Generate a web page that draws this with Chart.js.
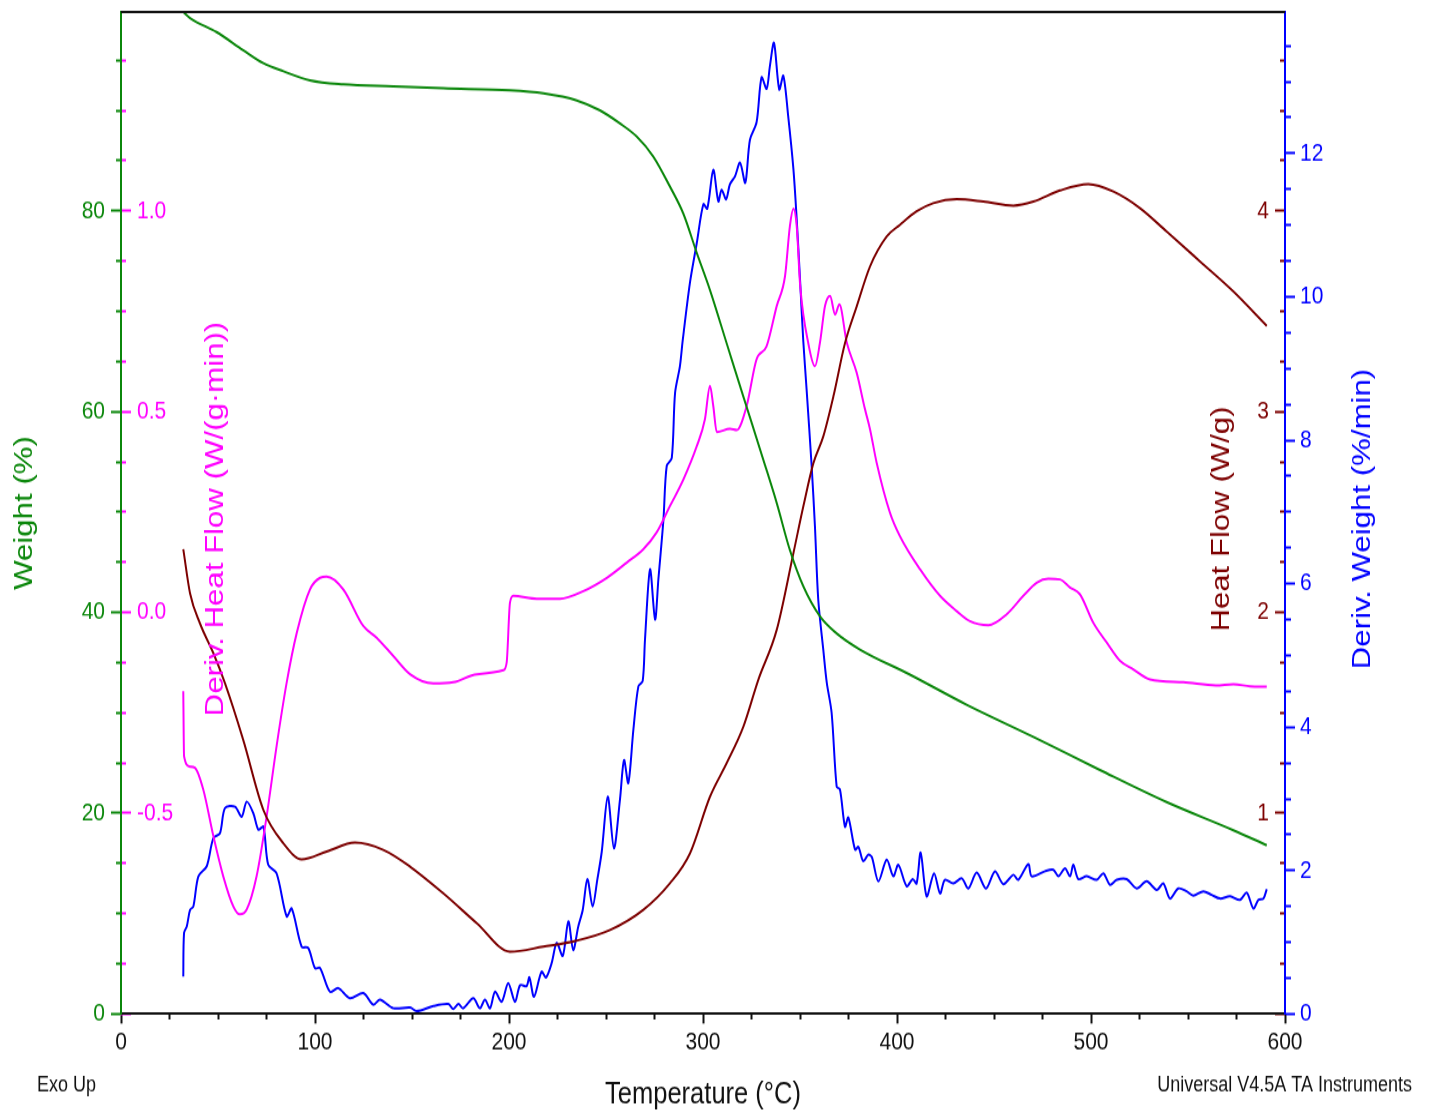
<!DOCTYPE html>
<html>
<head>
<meta charset="utf-8">
<script src="https://cdn.jsdelivr.net/npm/chart.js@4/dist/chart.umd.min.js"></script>
<style>
  html, body { margin: 0; padding: 0; background: #fff; }
  #wrap { width: 1432px; height: 1113px; }
</style>
</head>
<body>
<div id="wrap">
  <!-- drawn at 928px high and shown stretched to 1113px, like the instrument export -->
  <canvas id="tga" width="1432" height="928" style="width:1432px;height:1113px"></canvas>
</div>
<script>
// Weight (%)
const weightTemp = [
  32.1, 35.6, 49.3, 63.0, 73.4, 83.7, 97.4, 114.6, 140.4, 166.1,
  200.5, 217.7, 234.9, 246.9, 257.2, 265.8, 274.4, 283.0, 289.9, 296.8,
  303.6, 312.2, 320.8, 331.1, 338.0, 344.8, 351.7, 360.3, 368.9, 380.9,
  406.7, 435.9, 470.3, 504.6, 539.0, 573.4, 590.6
];
const weightPct = [
  99.8, 99.2, 97.8, 96.0, 94.7, 93.9, 93.0, 92.6, 92.4, 92.2,
  92.0, 91.7, 91.0, 90.0, 88.7, 87.4, 85.4, 82.4, 79.7, 75.8,
  72.1, 66.8, 61.5, 55.2, 50.9, 46.2, 42.6, 39.6, 37.9, 36.3,
  33.8, 30.8, 27.6, 24.3, 21.1, 18.3, 16.8
];

// Heat Flow (W/g)
const heatTemp = [
  32.1, 35.6, 40.7, 47.6, 53.6, 63.0, 73.4, 83.7, 93.1, 106.0,
  120.6, 135.2, 149.0, 166.1, 183.4, 200.5, 217.7, 234.9, 252.1, 269.2,
  283.0, 293.3, 303.6, 312.2, 320.8, 328.5, 338.0, 346.6, 351.7, 356.9,
  362.0, 367.2, 373.2, 379.2, 386.1, 394.7, 401.5, 410.1, 418.7, 430.8,
  444.5, 460.0, 470.3, 484.0, 498.6, 511.5, 525.3, 539.0, 556.2, 573.4,
  590.6
];
const heatFlow = [
  2.315, 2.095, 1.945, 1.797, 1.647, 1.365, 1.016, 0.850, 0.770, 0.809,
  0.853, 0.817, 0.734, 0.601, 0.452, 0.310, 0.335, 0.365, 0.418, 0.518,
  0.651, 0.800, 1.082, 1.249, 1.431, 1.664, 1.913, 2.295, 2.527, 2.743,
  2.876, 3.075, 3.341, 3.523, 3.723, 3.872, 3.930, 3.997, 4.038, 4.058,
  4.046, 4.026, 4.046, 4.101, 4.133, 4.096, 4.013, 3.897, 3.748, 3.598,
  3.427
];

// Deriv. Heat Flow (W/(g·min))
const dhfTemp = [
  32.1, 32.5, 35.6, 38.1, 42.4, 47.6, 52.7, 57.9, 61.3, 64.8,
  69.9, 75.1, 80.2, 85.4, 90.6, 97.4, 102.6, 106.0, 114.6, 124.9,
  131.8, 140.4, 149.0, 161.0, 171.3, 183.4, 197.1, 198.8, 200.5, 202.2,
  214.3, 226.3, 238.3, 250.4, 260.7, 269.2, 276.1, 283.0, 289.9, 296.8,
  301.0, 303.6, 305.3, 307.1, 313.9, 317.4, 322.5, 327.6, 332.8, 338.0,
  342.3, 344.8, 346.6, 348.3, 350.1, 354.4, 357.7, 360.3, 362.9, 365.5,
  368.1, 370.3, 374.1, 379.2, 383.5, 386.1, 389.5, 396.4, 401.5, 411.9,
  422.2, 430.8, 437.6, 447.1, 456.5, 465.1, 472.0, 478.0, 484.0, 489.2,
  494.3, 501.2, 508.1, 515.0, 521.8, 530.4, 547.6, 564.4, 573.4, 582.0,
  590.6
];
const derivHeatFlow = [
  -0.196, -0.358, -0.384, -0.387, -0.441, -0.557, -0.657, -0.732, -0.752, -0.740,
  -0.657, -0.507, -0.333, -0.175, -0.051, 0.057, 0.086, 0.089, 0.057, -0.034,
  -0.063, -0.109, -0.154, -0.177, -0.174, -0.154, -0.144, -0.125, 0.024, 0.041,
  0.034, 0.034, 0.053, 0.086, 0.124, 0.157, 0.199, 0.265, 0.331, 0.414,
  0.481, 0.564, 0.514, 0.449, 0.457, 0.454, 0.514, 0.630, 0.663, 0.763,
  0.838, 0.962, 1.005, 0.962, 0.813, 0.667, 0.613, 0.672, 0.763, 0.788,
  0.742, 0.767, 0.672, 0.597, 0.506, 0.456, 0.373, 0.248, 0.190, 0.107,
  0.041, 0.003, -0.022, -0.032, -0.005, 0.041, 0.074, 0.084, 0.082, 0.062,
  0.045, -0.026, -0.075, -0.121, -0.142, -0.167, -0.174, -0.182, -0.179, -0.184,
  -0.185
];

// Deriv. Weight (%/min)
const dwTemp = [
  32.1, 32.5, 33.9, 35.6, 37.3, 39.9, 44.2, 47.6, 51.0, 53.6,
  58.8, 62.2, 64.8, 68.2, 70.8, 73.4, 75.9, 80.2, 85.4, 88.0,
  93.1, 96.5, 100.0, 102.6, 107.7, 112.0, 118.0, 124.9, 130.1, 133.5,
  140.4, 149.0, 152.4, 161.0, 168.7, 171.3, 173.9, 176.4, 181.6, 185.0,
  187.6, 190.2, 192.8, 196.2, 199.6, 203.1, 205.7, 209.1, 210.5, 212.9,
  216.8, 219.1, 222.0, 224.6, 227.7, 230.6, 233.1, 235.7, 238.0, 240.4,
  243.1, 245.5, 247.8, 250.9, 254.1, 257.2, 259.3, 261.5, 264.1, 266.7,
  268.9, 270.1, 272.7, 275.3, 277.0, 279.6, 281.3, 283.9, 285.6, 288.1,
  289.5, 293.3, 296.8, 300.2, 302.2, 305.3, 307.9, 309.6, 311.9, 313.9,
  316.5, 319.1, 321.8, 324.2, 327.6, 330.2, 332.8, 334.5, 336.6, 339.3,
  341.4, 343.9, 346.6, 348.3, 350.1, 351.7, 353.4, 356.0, 357.7, 359.4,
  362.0, 363.8, 366.3, 368.9, 370.6, 373.2, 374.9, 378.4, 380.1, 382.6,
  385.2, 387.0, 390.4, 394.7, 398.1, 400.7, 405.0, 408.1, 410.1, 412.2,
  415.3, 419.1, 422.2, 424.7, 429.0, 433.4, 436.8, 441.1, 445.9, 450.5,
  454.8, 460.0, 462.5, 467.7, 469.4, 476.3, 480.6, 483.2, 486.6, 489.2,
  490.9, 493.5, 497.8, 502.9, 506.4, 509.8, 513.3, 518.4, 523.6, 528.7,
  533.9, 537.3, 540.7, 545.0, 549.3, 552.7, 557.9, 562.2, 566.5, 571.7,
  576.8, 580.3, 583.7, 586.3, 588.9, 590.6
];
const derivWeight = [
  0.52, 1.13, 1.22, 1.45, 1.50, 1.92, 2.06, 2.45, 2.52, 2.87,
  2.89, 2.75, 2.96, 2.80, 2.57, 2.61, 2.08, 1.96, 1.36, 1.47,
  0.94, 0.92, 0.64, 0.64, 0.31, 0.36, 0.22, 0.29, 0.13, 0.20,
  0.08, 0.09, 0.04, 0.11, 0.14, 0.07, 0.14, 0.08, 0.22, 0.08,
  0.20, 0.08, 0.31, 0.17, 0.43, 0.17, 0.40, 0.39, 0.51, 0.24,
  0.59, 0.51, 0.71, 0.99, 0.81, 1.29, 0.89, 1.22, 1.45, 1.88,
  1.50, 1.87, 2.26, 3.03, 2.31, 2.99, 3.54, 3.22, 3.96, 4.57,
  4.64, 5.22, 6.20, 5.50, 6.06, 6.89, 7.64, 7.75, 8.66, 9.03,
  9.38, 10.20, 10.75, 11.29, 11.23, 11.77, 11.33, 11.49, 11.36, 11.57,
  11.68, 11.87, 11.59, 12.19, 12.43, 13.06, 12.90, 13.22, 13.54, 12.89,
  13.08, 12.52, 11.78, 11.08, 10.20, 9.38, 8.71, 7.64, 6.80, 5.78,
  5.08, 4.62, 4.20, 3.17, 3.13, 2.61, 2.74, 2.29, 2.33, 2.13,
  2.22, 2.19, 1.85, 2.15, 1.92, 2.08, 1.78, 1.88, 1.82, 2.25,
  1.64, 1.96, 1.68, 1.87, 1.82, 1.89, 1.75, 1.97, 1.75, 1.99,
  1.81, 1.94, 1.87, 2.09, 1.92, 1.99, 2.01, 1.92, 2.03, 1.92,
  2.08, 1.88, 1.92, 1.87, 1.96, 1.80, 1.87, 1.88, 1.75, 1.85,
  1.73, 1.82, 1.61, 1.75, 1.71, 1.65, 1.71, 1.66, 1.61, 1.64,
  1.59, 1.69, 1.47, 1.59, 1.61, 1.74
];

// axis ranges as exported by the instrument
const tempRange = [0, 600];
const weightRange = [0, 99.8];
const dhfRange = [-1.0, 1.495];
const heatRange = [0, 4.99];
const dwRange = [0, 13.97];

const FONT = '"Liberation Sans", Arial, sans-serif';
const GREEN = '#0b870b';
const MAGENTA = '#ff00ff';
const MAROON = '#7d0000';
const BLUE = '#0000ff';

Chart.defaults.font.family = FONT;

const toPoints = (xs, ys) => xs.map((x, i) => ({ x, y: ys[i] }));
const isMult = (v, step) => Math.abs(v / step - Math.round(v / step)) < 1e-6;

// long ticks on the labelled values, short ones in between
const tickDash = (step, minor) => ctx => (ctx.tick && isMult(ctx.tick.value, step)) ? [] : minor;

const fixWidth = w => scale => {
  scale.width = w;
  scale.paddingTop = 0;
  scale.paddingBottom = 0;
};

const plotLeft = 121;
const plotRight = 1285;

const extras = {
  id: 'extras',
  afterDraw(chart) {
    const { ctx, chartArea: a } = chart;
    ctx.save();
    // frame line along the top
    ctx.strokeStyle = '#111';
    ctx.lineWidth = 1.8;
    ctx.beginPath();
    ctx.moveTo(a.left, a.top);
    ctx.lineTo(a.right, a.top);
    ctx.stroke();

    const midY = (a.top + a.bottom) / 2 + 5;
    const vText = (text, x, color) => {
      ctx.save();
      ctx.translate(x, midY);
      ctx.rotate(-Math.PI / 2);
      ctx.font = '26px ' + FONT;
      ctx.fillStyle = color;
      ctx.textAlign = 'center';
      ctx.textBaseline = 'middle';
      ctx.fillText(text, 0, 0);
      ctx.restore();
    };
    vText('Deriv. Heat Flow (W/(g·min))', a.left + 95, MAGENTA);
    vText('Heat Flow (W/g)', a.right - 63, MAROON);
    vText('Deriv. Weight (%/min)', a.right + 78, BLUE);

    ctx.font = '18px ' + FONT;
    ctx.fillStyle = '#111';
    ctx.textBaseline = 'middle';
    ctx.textAlign = 'left';
    ctx.fillText('Exo Up', 37, chart.height - 22.5);
    ctx.textAlign = 'right';
    ctx.fillText('Universal V4.5A TA Instruments', 1412, chart.height - 22.5);
    ctx.restore();
  }
};

const lineSet = (label, pts, color, axis, mode, tension) => ({
  label,
  data: pts,
  yAxisID: axis,
  borderColor: color,
  borderWidth: 2,
  pointRadius: 0,
  fill: false,
  cubicInterpolationMode: mode,
  tension
});

new Chart(document.getElementById('tga'), {
  type: 'line',
  data: {
    datasets: [
      lineSet('Weight (%)', toPoints(weightTemp, weightPct), GREEN, 'yW', 'monotone', 0),
      lineSet('Heat Flow (W/g)', toPoints(heatTemp, heatFlow), MAROON, 'yHF', 'monotone', 0),
      lineSet('Deriv. Heat Flow (W/(g·min))', toPoints(dhfTemp, derivHeatFlow), MAGENTA, 'yDHF', 'monotone', 0),
      lineSet('Deriv. Weight (%/min)', toPoints(dwTemp, derivWeight), BLUE, 'yDW', 'default', 0.3)
    ]
  },
  plugins: [extras],
  options: {
    responsive: false,
    devicePixelRatio: 1,
    animation: false,
    layout: { padding: { top: 10, bottom: 0, left: 0, right: 0 } },
    plugins: { legend: { display: false }, tooltip: { enabled: false } },
    scales: {
      x: {
        type: 'linear',
        position: 'bottom',
        min: tempRange[0],
        max: tempRange[1],
        border: { display: true, color: '#111', width: 2 },
        grid: {
          drawOnChartArea: false, tickLength: 8, tickWidth: 2, tickColor: '#111',
          tickBorderDash: tickDash(100, [4, 100])
        },
        ticks: {
          stepSize: 25, maxTicksLimit: 1000, autoSkip: false, maxRotation: 0,
          padding: 2.8, color: '#111', font: { size: 21 },
          callback: v => isMult(v, 100) ? String(v) : ''
        },
        title: {
          display: true, text: 'Temperature (°C)', color: '#111',
          font: { size: 25.5 }, padding: { top: 3.9, bottom: 0 }
        },
        afterFit: scale => {
          scale.height = 82.6;
          scale.paddingLeft = 0;
          scale.paddingRight = 0;
        }
      },
      yW: {
        type: 'linear',
        position: 'left',
        weight: 1,
        min: weightRange[0],
        max: weightRange[1],
        border: { display: true, color: GREEN, width: 2 },
        grid: {
          drawOnChartArea: false, tickLength: 10, tickWidth: 2, tickColor: GREEN,
          tickBorderDash: tickDash(20, [0, 5, 5, 100])
        },
        ticks: {
          stepSize: 5, maxTicksLimit: 1000, autoSkip: false, includeBounds: false,
          padding: 6, color: GREEN, font: { size: 21 },
          callback: v => isMult(v, 20) ? String(v) : ''
        },
        title: {
          display: true, text: 'Weight (%)', color: GREEN,
          font: { size: 26 }, padding: { top: 9.4, bottom: 0 }
        },
        afterFit: fixWidth(plotLeft)
      },
      yDHF: {
        type: 'linear',
        position: 'left',
        weight: 0,
        min: dhfRange[0],
        max: dhfRange[1],
        border: { display: false },
        grid: {
          drawOnChartArea: false, tickLength: -10, tickWidth: 2, tickColor: MAGENTA,
          tickBorderDash: tickDash(0.5, [0, 5, 5, 100])
        },
        ticks: {
          stepSize: 0.125, maxTicksLimit: 1000, autoSkip: false, includeBounds: false,
          mirror: true, padding: 16, color: MAGENTA, font: { size: 21 },
          callback: v => (isMult(v, 0.5) && v > -0.9) ? v.toFixed(1) : ''
        },
        afterFit: fixWidth(0)
      },
      yHF: {
        type: 'linear',
        position: 'right',
        weight: 0,
        min: heatRange[0],
        max: heatRange[1],
        border: { display: false },
        grid: {
          drawOnChartArea: false, tickLength: -10, tickWidth: 2, tickColor: MAROON,
          tickBorderDash: tickDash(1, [5, 100])
        },
        ticks: {
          stepSize: 0.25, maxTicksLimit: 1000, autoSkip: false, includeBounds: false,
          mirror: true, padding: -16, color: MAROON, font: { size: 21 },
          callback: v => (isMult(v, 1) && v > 0.5) ? String(v) : ''
        },
        afterFit: fixWidth(0)
      },
      yDW: {
        type: 'linear',
        position: 'right',
        weight: 1,
        min: dwRange[0],
        max: dwRange[1],
        border: { display: true, color: BLUE, width: 2 },
        grid: {
          drawOnChartArea: false, tickLength: 10, tickWidth: 2, tickColor: BLUE,
          tickBorderDash: tickDash(2, [5, 100])
        },
        ticks: {
          stepSize: 0.5, maxTicksLimit: 1000, autoSkip: false, includeBounds: false,
          padding: 5, color: BLUE, font: { size: 21 },
          callback: v => isMult(v, 2) ? String(v) : ''
        },
        afterFit: fixWidth(1432 - plotRight)
      }
    }
  }
});
</script>
</body>
</html>
